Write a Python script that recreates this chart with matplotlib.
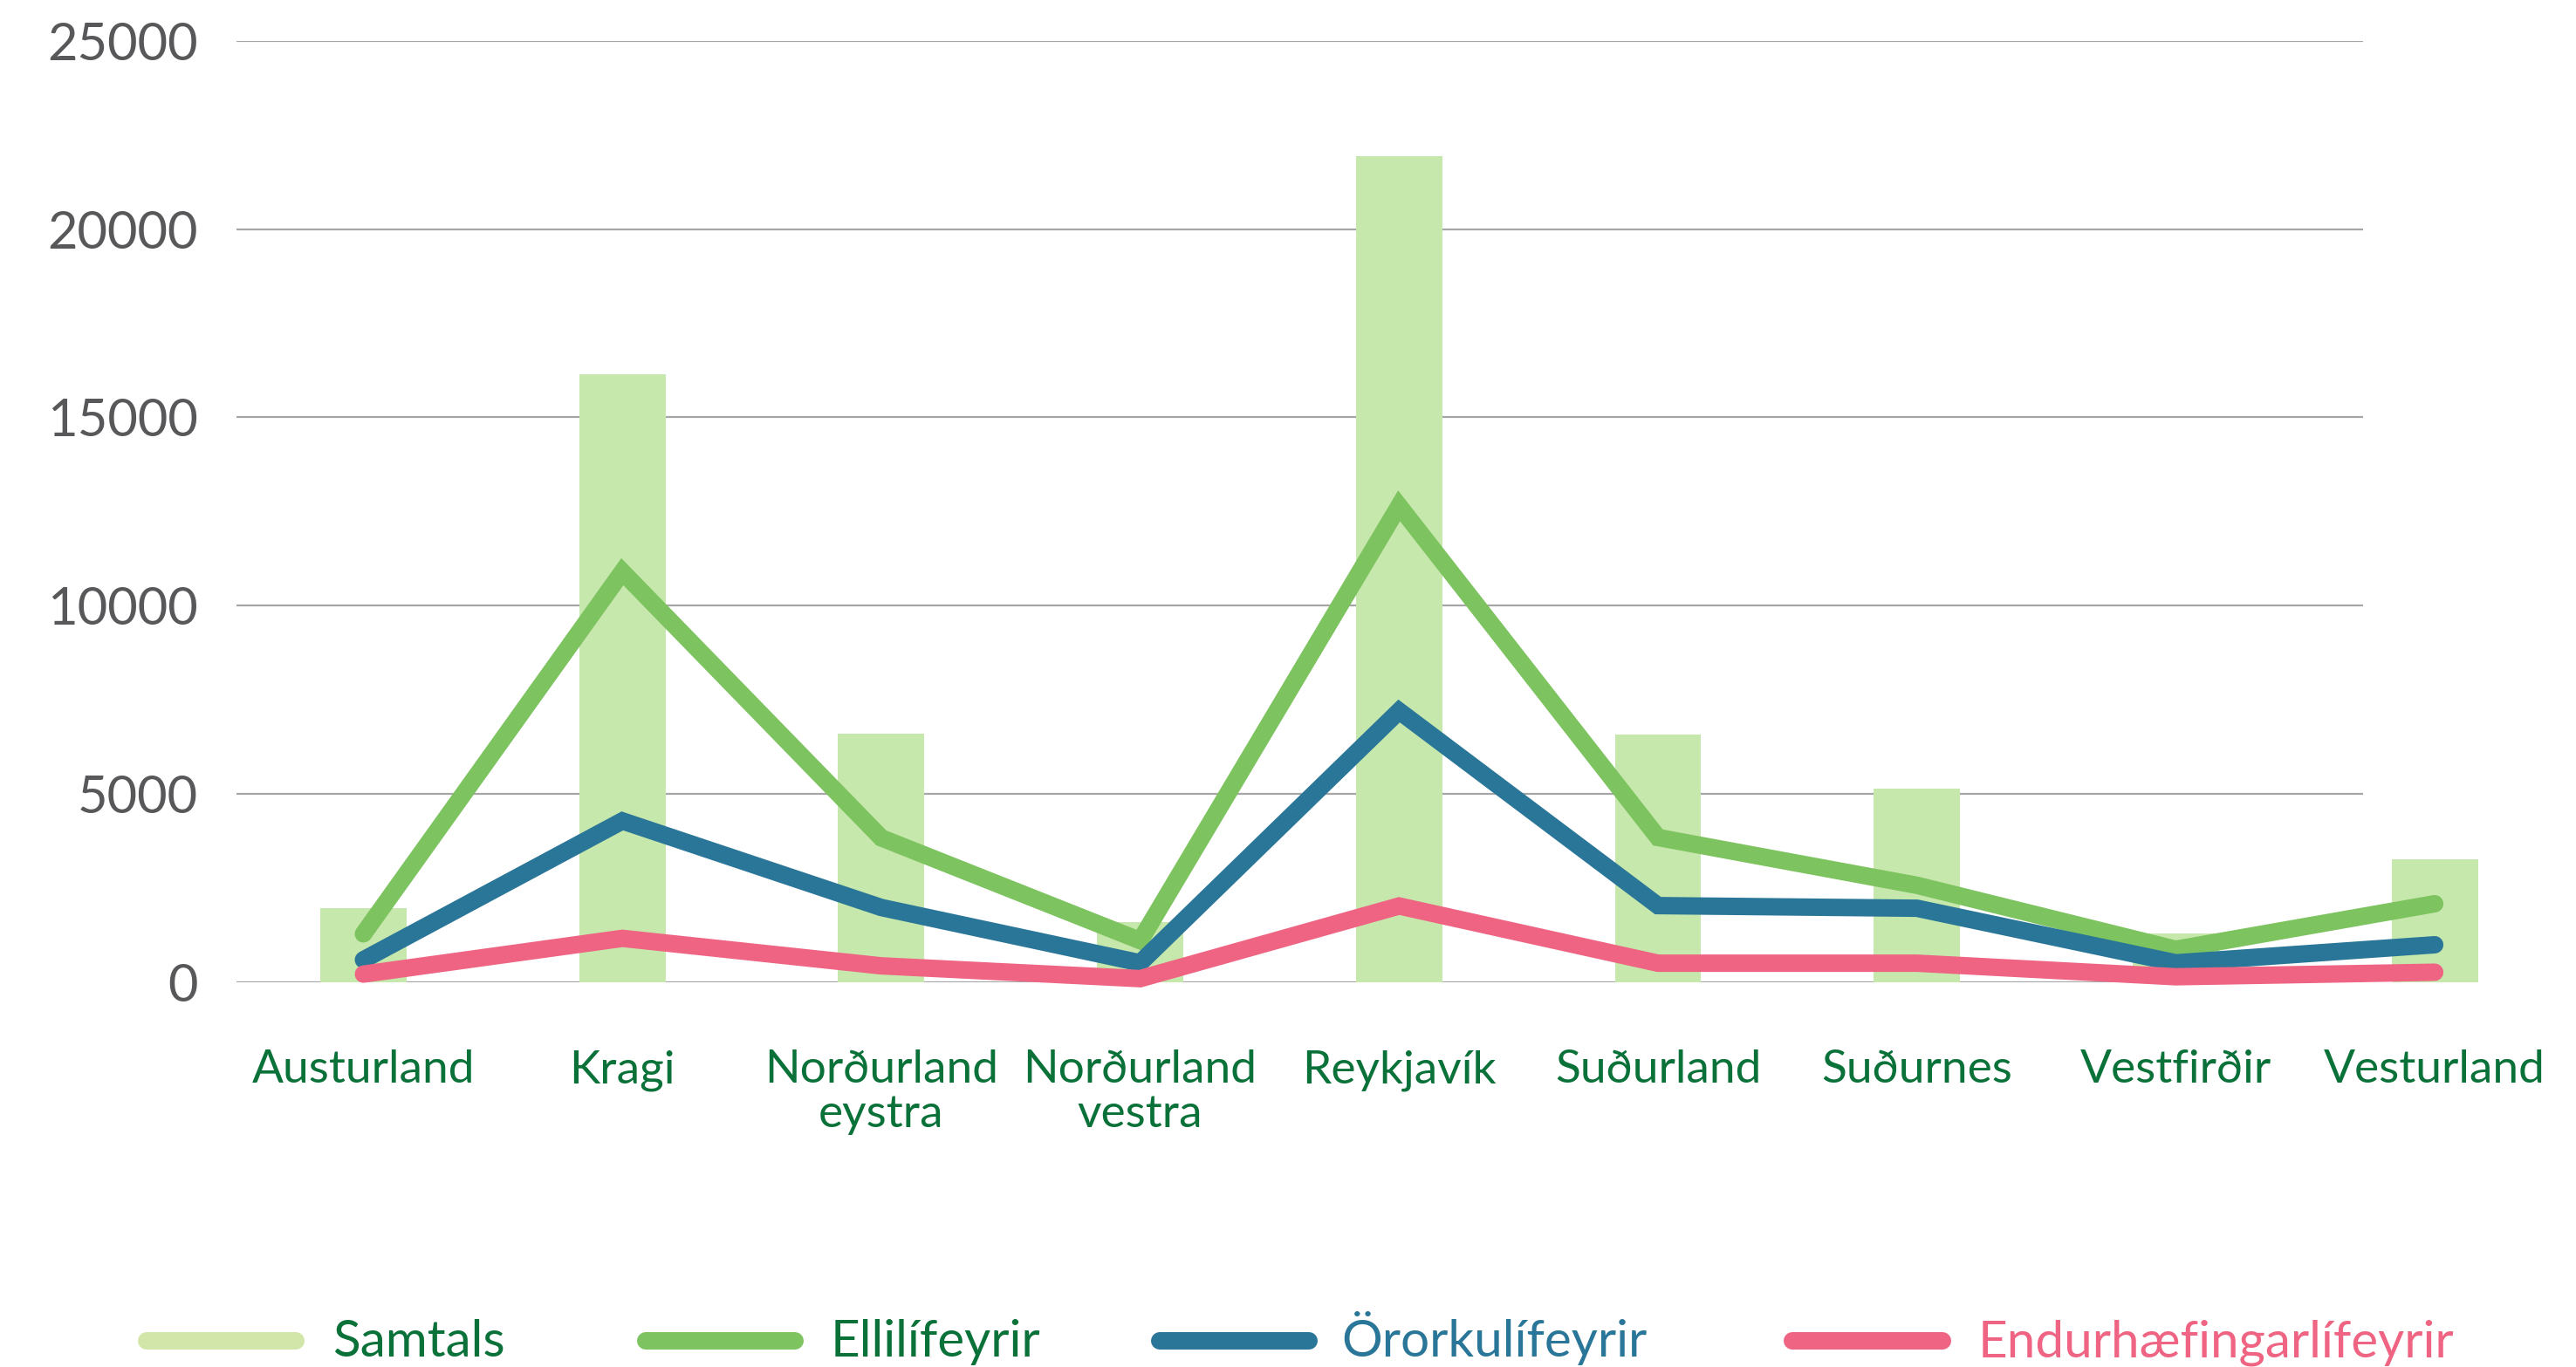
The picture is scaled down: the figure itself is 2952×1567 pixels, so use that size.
import numpy as np
import matplotlib
matplotlib.use("Agg")
import matplotlib.pyplot as plt
from matplotlib.lines import Line2D

plt.rcParams["font.family"] = ["Lato", "DejaVu Sans"]

# Data
regions = ["Austurland", "Kragi", "Norðurland\neystra", "Norðurland\nvestra", "Reykjavík",
           "Suðurland", "Suðurnes", "Vestfirðir", "Vesturland"]
samtals = [1960, 16150, 6600, 1600, 21950, 6570, 5130, 1300, 3250]
ellilifeyrir = [1280, 10900, 3830, 1100, 12650, 3840, 2570, 870, 2080]
ororkulifeyrir = [590, 4280, 1980, 510, 7200, 2030, 1960, 510, 990]
endurhaefing = [210, 1160, 430, 90, 2020, 500, 500, 140, 260]
y_ticks = [0, 5000, 10000, 15000, 20000, 25000]

BAR_C = "#c7e8ac"
GREEN = "#7dc35f"
BLUE = "#2a7698"
PINK = "#ee6482"
DARK_GREEN = "#0a7139"

W, H = 2952, 1567
fig = plt.figure(figsize=(W / 200, H / 200), dpi=200)

# pixel layout of the plot area
x0_px, x_step = 416.5, 296.7
left_px, right_px, grid_end_px = 271, 2900, 2708
top_px, zero_px = 47, 1125.7
ax = fig.add_axes([left_px / W, 1 - zero_px / H, (right_px - left_px) / W, (zero_px - top_px) / H])

x = np.arange(len(regions))
xmin = (left_px - x0_px) / x_step
xmax = (right_px - x0_px) / x_step
grid_end = (grid_end_px - x0_px) / x_step

ax.hlines(y_ticks, xmin, grid_end, color="#a6a6a6", lw=0.8, zorder=0)
ax.bar(x, samtals, width=0.333, color=BAR_C, zorder=1)

line_kw = dict(lw=7.2, solid_joinstyle="miter", solid_capstyle="round", clip_on=False)
ax.plot(x, ellilifeyrir, color=GREEN, zorder=2, **line_kw)
ax.plot(x, ororkulifeyrir, color=BLUE, zorder=3, **line_kw)
ax.plot(x, endurhaefing, color=PINK, zorder=4, **line_kw)

ax.set_xlim(xmin, xmax)
ax.set_ylim(0, 25000)
ax.set_yticks(y_ticks)
ax.set_yticklabels([str(v) for v in y_ticks], fontsize=21.5, color="#58585a")
ax.set_xticks(x)
ax.set_xticklabels(regions, fontsize=19.2, color=DARK_GREEN, linespacing=1.08)
ax.tick_params(axis="y", length=0, pad=16)
ax.tick_params(axis="x", length=0, pad=28)
for s in ax.spines.values():
    s.set_visible(False)

# legend drawn by hand to match the reference spacing
legend_items = [
    ("Samtals", "#d3e6a9", DARK_GREEN, 168, 339, 381),
    ("Ellilífeyrir", GREEN, DARK_GREEN, 740, 911, 952),
    ("Örorkulífeyrir", BLUE, BLUE, 1329, 1500, 1537),
    ("Endurhæfingarlífeyrir", PINK, PINK, 2054, 2226, 2267),
]
y_handle = 1 - 1537 / H
y_text = 1 - 1555 / H
for label, lc, tc, a, b, tx in legend_items:
    fig.add_artist(Line2D([a / W, b / W], [y_handle, y_handle], color=lc, lw=7.2,
                          solid_capstyle="round", transform=fig.transFigure))
    fig.text(tx / W, y_text, label, color=tc, fontsize=21, va="baseline", ha="left")

fig.savefig("out.png", dpi=200)
plt.close(fig)
